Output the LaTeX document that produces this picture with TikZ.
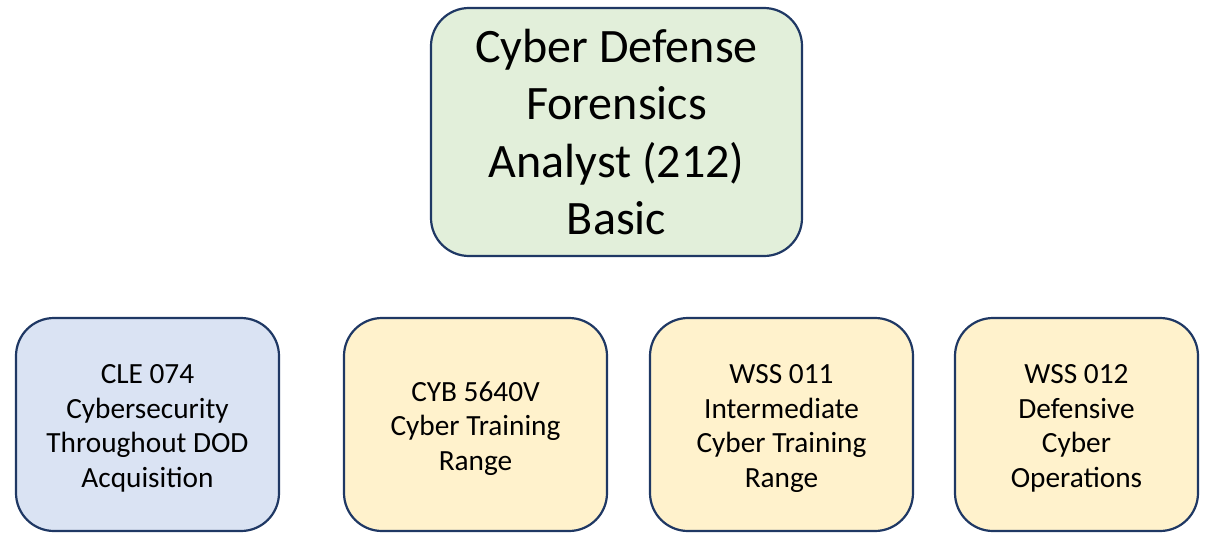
\documentclass[tikz,border=0pt]{standalone}
\usepackage{fontspec}
\setmainfont{Carlito}
\definecolor{edge}{HTML}{1F3864}
\definecolor{gfill}{HTML}{E2EFDA}
\definecolor{bfill}{HTML}{DAE3F3}
\definecolor{yfill}{HTML}{FFF2CC}
\tikzset{
  box/.style={draw=edge, line width=2.2pt, rounded corners=38pt, inner sep=0pt},
  topbox/.style={box, fill=gfill, minimum width=371pt, minimum height=248pt},
  lowbox/.style={box, minimum width=263pt, minimum height=213pt},
  toptext/.style={align=center, inner sep=0pt, font=\fontsize{48}{57.5}\selectfont},
  lowtext/.style={align=center, inner sep=0pt, font=\fontsize{29.3}{34.5}\selectfont},
}
\begin{document}
\begin{tikzpicture}[x=1pt,y=-1pt]
\useasboundingbox (0,0) rectangle (1205,538);
\node[topbox] (top) at (616.5,132) {};
\node[toptext] (topt) at (top.center) {Cyber Defense\\Forensics\\Analyst (212)\\Basic};
\node[lowbox, fill=bfill] (c1) at (147.5,424.5) {};
\node[lowbox, fill=yfill] (c2) at (475.5,424.5) {};
\node[lowbox, fill=yfill] (c3) at (781.5,424.5) {};
\node[lowbox, fill=yfill, minimum width=243pt] (c4) at (1076.5,424.5) {};
\node[lowtext, yshift=-4pt] (t1) at (c1.center) {CLE 074\\Cybersecurity\\Throughout DOD\\Acquisition};
\node[lowtext, yshift=-4pt] (t2) at (c2.center) {CYB 5640V\\Cyber Training\\Range};
\node[lowtext, yshift=-4pt] (t3) at (c3.center) {WSS 011\\Intermediate\\Cyber Training\\Range};
\node[lowtext, yshift=-4pt] (t4) at (c4.center) {WSS 012\\Defensive\\Cyber\\Operations};
\end{tikzpicture}
\end{document}
